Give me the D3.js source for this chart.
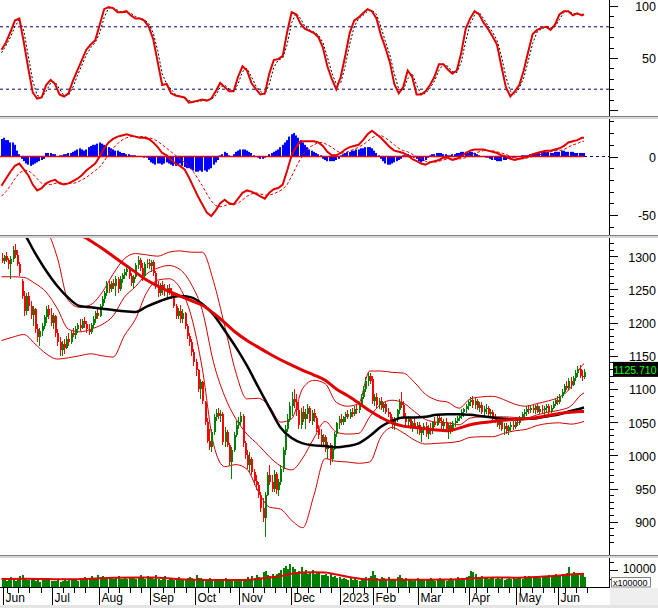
<!DOCTYPE html>
<html><head><meta charset="utf-8">
<script src="https://cdn.jsdelivr.net/npm/d3@7/dist/d3.min.js"></script>
<style>html,body{margin:0;padding:0;background:#fff;}svg{display:block;font-family:"Liberation Sans",Arial,sans-serif;}</style>
</head><body><svg id="chart" width="658" height="608"></svg>
<script>
// ---------- DATA ----------
const monthNames = ["Jun","Jul","Aug","Sep","Oct","Nov","Dec","2023","Feb","Mar","Apr","May","Jun"];
const monthStartDay = [1,23,44,67,87,107,130,152,167,187,210,231,250];

const opens = [
1298,1293,1300,1295,1288,1296,1310,1302,1288,1262,
1240,1218,1240,1225,1212,1220,1190,1178,1188,1195,
1208,1220,1212,1200,1210,1185,1170,1158,1168,1162,
1176,1170,1185,1182,1190,1196,1192,1203,1198,1190,
1186,1196,1205,1214,1210,1225,1236,1245,1258,1250,
1260,1255,1265,1250,1266,1272,1276,1280,1270,1260,
1268,1286,1294,1282,1270,1288,1290,1285,1292,1275,
1255,1245,1256,1250,1248,1252,1246,1240,1225,1210,
1218,1206,1215,1195,1180,1170,1155,1140,1128,1100,
1110,1080,1050,1022,1012,1035,1058,1064,1060,1062,
1020,1035,1015,990,1008,1030,1045,1050,1060,1018,
1000,985,995,975,962,955,940,920,905,940,
970,960,950,972,948,960,980,1008,1040,1055,
1075,1085,1080,1068,1045,1065,1055,1062,1072,1052,
1064,1056,1040,1030,1020,1028,1010,1015,995,1010,
1032,1048,1055,1050,1058,1062,1058,1066,1062,1070,
1068,1078,1088,1100,1112,1120,1115,1082,1088,1076,
1082,1072,1078,1066,1062,1052,1045,1054,1068,1080,
1076,1058,1050,1055,1044,1048,1042,1046,1034,1038,
1044,1032,1040,1036,1050,1046,1056,1052,1044,1050,
1040,1045,1038,1048,1052,1056,1060,1066,1070,1074,
1080,1084,1076,1082,1072,1076,1066,1070,1072,1062,
1066,1056,1052,1046,1050,1040,1044,1036,1042,1046,
1042,1050,1048,1058,1062,1066,1070,1068,1072,1068,
1074,1066,1070,1068,1072,1074,1066,1072,1078,1084,
1080,1090,1096,1105,1102,1112,1106,1116,1124,1130,
1120,1118];
const highs = [
1305,1302,1306,1298,1300,1315,1318,1310,1292,1265,
1248,1245,1246,1232,1225,1222,1198,1192,1200,1212,
1225,1226,1222,1215,1212,1190,1178,1172,1175,1180,
1185,1188,1192,1195,1200,1205,1206,1208,1202,1198,
1200,1210,1218,1222,1228,1240,1248,1262,1262,1262,
1266,1270,1268,1270,1275,1280,1285,1284,1275,1272,
1290,1300,1298,1290,1292,1296,1296,1294,1295,1278,
1262,1260,1262,1258,1256,1258,1252,1245,1228,1222,
1226,1220,1216,1198,1185,1175,1160,1145,1130,1115,
1112,1082,1056,1040,1040,1062,1070,1072,1068,1066,
1042,1038,1018,1012,1035,1052,1058,1066,1062,1022,
1008,1005,998,980,970,960,945,935,945,975,
985,970,978,975,965,985,1012,1045,1062,1080,
1095,1100,1092,1080,1072,1075,1070,1078,1075,1068,
1070,1060,1045,1040,1032,1030,1020,1018,1015,1035,
1050,1060,1062,1060,1066,1068,1070,1072,1075,1076,
1080,1092,1105,1118,1126,1124,1120,1092,1094,1086,
1088,1080,1082,1072,1066,1058,1058,1070,1085,1096,
1082,1064,1060,1058,1052,1056,1050,1050,1042,1048,
1050,1045,1048,1052,1058,1060,1062,1058,1055,1056,
1048,1050,1052,1056,1060,1064,1070,1072,1078,1084,
1088,1090,1086,1085,1080,1080,1075,1078,1074,1070,
1068,1062,1058,1054,1052,1048,1048,1046,1050,1052,
1054,1056,1060,1066,1070,1074,1076,1076,1078,1076,
1078,1074,1076,1074,1078,1078,1076,1082,1086,1090,
1092,1100,1108,1112,1116,1118,1120,1128,1134,1136,
1128,1130];
const lows = [
1290,1288,1292,1280,1265,1292,1298,1285,1270,1235,
1210,1212,1218,1205,1195,1185,1170,1165,1180,1190,
1200,1205,1195,1190,1178,1165,1150,1150,1152,1160,
1165,1168,1178,1175,1185,1188,1190,1192,1185,1182,
1183,1192,1200,1206,1208,1222,1230,1240,1245,1246,
1250,1240,1245,1248,1260,1266,1270,1266,1255,1250,
1265,1280,1278,1262,1268,1282,1280,1276,1270,1250,
1238,1240,1242,1240,1238,1242,1235,1222,1205,1205,
1200,1200,1190,1175,1165,1150,1135,1120,1095,1085,
1078,1045,1018,1008,1005,1030,1052,1055,1050,1015,
1012,1012,985,965,1005,1028,1040,1045,1012,995,
980,975,970,955,948,935,915,900,877,938,
955,945,945,942,938,955,975,1000,1035,1050,
1060,1072,1060,1040,1040,1050,1040,1055,1048,1045,
1050,1035,1025,1015,1012,1005,995,985,990,1008,
1028,1040,1045,1046,1050,1055,1055,1058,1060,1062,
1064,1075,1085,1095,1105,1108,1078,1075,1072,1070,
1068,1065,1062,1058,1048,1040,1038,1050,1062,1072,
1055,1045,1042,1040,1035,1040,1032,1030,1020,1030,
1028,1025,1030,1032,1042,1044,1048,1040,1040,1035,
1025,1032,1035,1042,1048,1052,1055,1058,1064,1068,
1074,1072,1070,1068,1066,1062,1060,1062,1058,1056,
1052,1048,1042,1040,1036,1030,1032,1030,1036,1038,
1040,1044,1046,1054,1056,1060,1062,1064,1064,1062,
1064,1062,1064,1060,1066,1062,1064,1070,1074,1076,
1078,1086,1092,1098,1098,1100,1104,1112,1118,1116,
1112,1115];
const closes = [
1293,1300,1295,1288,1296,1310,1302,1288,1275,1240,
1218,1240,1225,1212,1220,1190,1178,1188,1195,1208,
1220,1212,1200,1210,1185,1170,1158,1168,1162,1176,
1170,1185,1182,1190,1196,1192,1203,1198,1190,1186,
1196,1205,1214,1210,1225,1236,1245,1258,1250,1260,
1255,1265,1250,1266,1272,1276,1280,1270,1260,1268,
1286,1294,1282,1270,1288,1290,1285,1292,1275,1255,
1245,1256,1250,1248,1252,1246,1240,1225,1210,1218,
1206,1215,1195,1180,1170,1155,1140,1128,1100,1110,
1082,1050,1022,1012,1035,1058,1064,1060,1062,1020,
1035,1015,990,1008,1030,1045,1050,1060,1018,1000,
985,995,975,962,955,940,920,905,940,970,
960,950,972,948,960,980,1008,1040,1055,1075,
1085,1080,1068,1045,1065,1055,1062,1072,1052,1064,
1056,1040,1030,1020,1028,1010,1015,995,1010,1032,
1048,1055,1050,1058,1062,1058,1066,1062,1070,1068,
1078,1088,1100,1112,1120,1112,1082,1088,1076,1082,
1072,1078,1066,1062,1052,1045,1054,1068,1080,1076,
1058,1050,1055,1044,1048,1042,1046,1034,1038,1044,
1032,1040,1036,1050,1046,1056,1052,1044,1050,1040,
1045,1038,1048,1052,1056,1060,1066,1070,1074,1080,
1084,1076,1082,1072,1076,1066,1070,1072,1062,1066,
1056,1052,1046,1050,1040,1044,1036,1042,1046,1042,
1050,1048,1058,1062,1066,1070,1068,1072,1068,1074,
1066,1070,1068,1072,1074,1066,1072,1078,1084,1080,
1090,1096,1105,1102,1112,1106,1116,1124,1130,1120,
1118,1125.71];

// smooth overlay lines, sampled every 5 trading days (+ last day)
const maBlack = [1375,1355,1335,1305,1278,1255,1237,1225,1223,1221,1219,1217,1216,1224,1231,1237,1240,1238,1228,1212,1188,1163,1135,1103,1072,1042,1026,1018,1015,1014,1012,1014,1018,1029,1043,1052,1057,1057,1058,1061,1062,1062,1061,1059,1057,1055,1054,1055,1056,1059,1062,1067,1071,1072];
const maRed = [1400,1385,1372,1360,1350,1342,1335,1332,1323,1312,1300,1288,1276,1264,1255,1247,1240,1233,1226,1214,1200,1185,1173,1163,1153,1144,1136,1128,1121,1113,1100,1090,1079,1067,1057,1049,1044,1042,1040,1038,1037,1041,1046,1049,1051,1053,1054,1055,1057,1060,1063,1065,1066,1066];
const bbUpper = [1365,1360,1355,1350,1340,1298,1233,1223,1227,1245,1273,1296,1304,1302,1300,1306,1308,1306,1306,1262,1195,1125,1085,1086,1074,1050,1055,1101,1113,1108,1080,1074,1078,1127,1127,1125,1124,1110,1092,1083,1080,1071,1085,1088,1089,1084,1077,1074,1078,1082,1088,1102,1135,1138];
const bbMid = [1269,1269,1268,1259,1246,1221,1190,1186,1190,1197,1210,1238,1254,1273,1282,1286,1280,1258,1218,1140,1089,1055,1032,1016,998,984,978,996,1026,1051,1035,1032,1033,1058,1077,1083,1079,1066,1054,1050,1049,1046,1056,1058,1058,1058,1057,1056,1061,1065,1068,1074,1092,1094];
const bbLower = [1173,1178,1182,1168,1153,1145,1147,1150,1153,1150,1148,1180,1205,1245,1264,1266,1252,1210,1130,1017,983,986,979,946,922,919,902,891,940,995,991,990,988,990,1028,1042,1034,1023,1017,1018,1019,1021,1027,1028,1028,1033,1037,1039,1045,1048,1049,1047,1050,1051];

// oscillators, sampled every 2 trading days (+ last day)
const stochK = [58,65,75,86,88,65,40,17,11,12,24,29,25,15,13,16,28,38,48,58,63,67,82,97,99,98,94,94,95,91,88,88,86,80,68,46,24,25,16,14,13,12,7,8,9,10,9,11,18,26,22,18,18,32,42,38,26,20,15,16,35,48,49,52,75,94,92,83,78,76,74,70,60,42,30,20,32,52,74,86,89,93,97,95,88,72,60,46,25,16,22,38,32,15,15,18,24,32,44,44,39,35,38,55,78,88,95,92,84,78,71,63,42,22,13,18,24,38,56,73,77,79,80,77,82,92,95,95,91,93,91,92];
const stochD = [55,62,70,80,87,76,52,28,14,12,18,26,27,20,14,14,22,33,43,53,60,65,74,89,98,98,96,94,94,93,90,88,87,83,74,57,35,25,20,15,13,12,9,8,8,9,10,10,14,22,24,20,18,25,37,40,32,23,18,15,25,41,48,50,63,84,93,88,80,77,75,72,65,51,36,25,26,42,63,80,88,91,95,96,92,80,66,53,35,20,19,30,35,24,15,16,21,28,38,44,42,37,36,46,66,83,91,94,88,81,75,67,52,32,18,15,21,31,47,64,75,78,80,79,80,87,94,95,93,92,92,92];
const macdLine = [-25,-19,-13,-8,-6,-11,-16,-24,-29,-27,-23,-21,-20,-23,-24,-23,-21,-19,-16,-12,-9,-6,0,7,12,15,17,18,19,18,17,16,16,15,12,8,3,1,-3,-6,-8,-11,-18,-26,-34,-41,-48,-51,-46,-40,-37,-40,-41,-36,-31,-29,-30,-32,-34,-36,-31,-28,-27,-24,-12,1,8,13,13,13,13,12,9,4,1,1,3,6,8,9,10,14,19,22,19,16,12,8,5,4,3,1,-2,-4,-6,-7,-5,-4,-3,-1,-1,-3,-2,0,3,5,6,6,6,5,4,3,1,0,-2,-3,-2,-1,0,2,3,4,5,5,6,7,9,12,13,14,16,16];
const macdSignal = [-34,-30,-25,-19,-14,-12,-12,-15,-19,-23,-24,-24,-23,-22,-23,-23,-23,-22,-20,-18,-15,-12,-9,-4,2,7,11,14,16,17,17,17,17,16,15,13,10,7,4,1,-2,-5,-8,-13,-19,-25,-32,-38,-42,-43,-42,-41,-41,-40,-37,-34,-32,-31,-32,-33,-33,-32,-30,-28,-24,-17,-9,-2,4,8,10,12,12,10,8,5,3,3,5,6,8,10,13,16,18,18,16,13,10,7,5,4,2,0,-2,-4,-5,-5,-4,-3,-2,-2,-2,-2,-1,1,3,4,5,5,5,4,3,2,0,-1,-2,-2,-1,0,1,2,3,4,5,5,6,8,10,11,13,13];
// daily MACD histogram
const macdHist = [
15,16,14,14,12,12,10,5,2,
-2,-4,-6,-7,-8,-7,-6,-5,-4,-3,-2,
3,3,3,2,2,0,1,1,2,2,3,
3,4,5,6,7,6,5,6,8,9,10,10,11,12,
11,10,9,8,7,6,5,5,4,3,3,2,2,1,1,1,0,0,0,-1,-1,
-3,-5,-6,-7,-6,-6,-7,-6,-5,-6,-7,-8,-8,-7,-6,-8,-9,-10,-10,-11,-12,-13,-13,-12,-13,-12,-13,-11,-10,-7,-5,-3,
1,2,4,3,1,0,2,4,5,6,6,6,5,4,3,1,0,-1,-2,-2,-1,0,
2,3,4,5,6,8,10,12,14,17,19,20,
18,16,14,12,10,8,6,5,4,3,2,1,
-2,-3,-4,-4,-4,-4,-3,-2,
1,2,3,4,4,5,5,6,6,7,7,8,8,8,7,5,3,1,
-2,-4,-6,-7,-7,-6,-5,-4,-3,-2,
1,1,2,1,0,-1,
-2,-4,-5,-4,-3,-1,
1,2,2,3,3,3,2,2,1,1,2,2,3,3,4,4,4,3,
4,4,3,2,1,0,0,-1,
-1,-2,-3,-3,-4,-4,-4,-3,-3,-2,-2,-1,-1,0,0,1,1,1,
1,2,2,3,3,3,4,4,4,4,3,3,4,4,4,5,5,4,4,4,4,3,3,3,3,3];

// volume (x100000)
const volumes = [
4500,5200,3800,4100,6000,4800,3500,5500,6200,7000,5300,4200,3900,4600,5100,3600,4400,3200,4700,5000,3900,4300,3600,
3400,3800,4200,3000,3600,4100,3300,4500,3900,4800,4200,3600,5100,4400,5800,4900,5300,6200,4700,5500,6800,5900,
6500,5200,4800,6000,5400,4700,5900,6300,5000,4600,5500,4900,5800,6100,5200,4700,5600,7200,5400,4900,6300,5100,5700,
4500,7000,4800,4100,5500,6200,3900,4600,5200,4000,4800,5700,4300,5000,4600,5400,5900,5100,4500,7200,5400,
5200,4300,4000,4700,5200,3800,4500,3900,5000,3600,4300,5500,4000,4700,3500,4400,4100,4900,4300,3800,4600,
5900,5000,6400,5300,7000,6100,5500,8800,9600,7200,6400,7800,6600,7500,8400,9900,11200,12400,10300,13800,11800,
10500,8600,9400,12000,8200,9800,7900,8800,10200,7600,8300,9100,7200,6800,7700,6400,8000,5900,6500,5200,6100,
4500,5300,4800,3900,5600,4300,5000,4400,3800,5200,4600,5800,5300,6200,9600,
6800,5400,4700,6100,5200,4600,5700,4300,5000,4800,5900,6800,5100,4500,5300,4200,4900,3800,4600,5200,
4400,5000,3900,4700,4200,5300,4500,3800,4600,5100,4300,4900,3700,4500,5200,4100,4800,5600,4400,5300,4900,5800,6200,
9200,8700,7500,6100,5400,6600,5100,5800,4700,5300,6000,4900,5500,4600,5200,4400,5000,5700,4800,5300,4500,
5100,5800,4900,6200,5500,6700,5300,6000,5600,6400,5200,5900,6600,6000,7200,6300,6900,7600,6500,
7100,7800,6700,8200,11700,7400,8900,7200,8300,6800,7500,6100];
const volMaDays = [0,10,20,30,40,50,60,70,80,90,100,110,115,120,125,130,135,140,145,150,155,160,165,170,180,190,200,210,215,220,230,240,250,255,261];
const volMa = [4700,4800,4700,4500,4800,5400,5600,5500,4600,4200,4100,4200,4800,5600,6500,7800,8500,8700,8600,7300,6000,5000,4400,4300,4200,4300,4400,5000,5500,5600,5500,5900,6700,7400,7800];

const priceTicks = [900,950,1000,1050,1100,1150,1200,1250,1300];
const lastLabel = "1125.710";

// ---------- CHART ----------
const N = closes.length;
const AX = 609.5;
const x = d3.scaleLinear().domain([0, N - 1]).range([1.5, 584]);
const lineDays = d3.range(0, N - 1, 5).concat([N - 1]);
const oscDays = d3.range(0, N - 1, 2).concat([N - 1]);

const yS = d3.scaleLinear().domain([0, 100]).range([110, 6]);
const yM = d3.scaleLinear().domain([-50, 0]).range([215, 156.5]);
const yP = d3.scaleLinear().domain([900, 1300]).range([521.7, 256.2]);
const yV = d3.scaleLinear().domain([0, 10000]).range([587, 570]);

const svg = d3.select("#chart");
svg.append("rect").attr("width", 658).attr("height", 608).attr("fill", "#fff");
const defs = svg.append("defs");
function clip(id, y0, y1) {
  defs.append("clipPath").attr("id", id).append("rect")
    .attr("x", 0).attr("y", y0).attr("width", AX).attr("height", y1 - y0);
}
clip("cS", 0, 116); clip("cM", 119, 235); clip("cP", 238, 555); clip("cV", 558, 587);

// ----- stochastic -----
const gS = svg.append("g").attr("clip-path", "url(#cS)");
[80, 20].forEach(v => gS.append("line").attr("x1", 0).attr("x2", AX)
  .attr("y1", yS(v)).attr("y2", yS(v)).attr("stroke", "#000080").attr("stroke-dasharray", "3,3"));
const lineS = d3.line().x((d, i) => x(oscDays[i])).y(d => yS(d));
gS.append("path").datum(stochD).attr("d", lineS).attr("fill", "none")
  .attr("stroke", "#000").attr("stroke-width", 1).attr("stroke-dasharray", "2,2");
gS.append("path").datum(stochK).attr("d", lineS).attr("fill", "none")
  .attr("stroke", "#e00000").attr("stroke-width", 2);

// ----- MACD -----
const gM = svg.append("g").attr("clip-path", "url(#cM)");
gM.selectAll("rect.h").data(macdHist).join("rect").attr("class", "h")
  .attr("x", (d, i) => Math.round(x(i)) - 1).attr("width", 2)
  .attr("y", d => Math.min(yM(d), yM(0))).attr("height", d => Math.abs(yM(d) - yM(0)))
  .attr("fill", "#0000ff");
gM.append("line").attr("x1", 0).attr("x2", x(N - 1)).attr("y1", yM(0)).attr("y2", yM(0))
  .attr("stroke", "#e00000").attr("stroke-width", 1.5);
gM.append("line").attr("x1", x(N - 1)).attr("x2", AX).attr("y1", yM(0)).attr("y2", yM(0))
  .attr("stroke", "#0000a0").attr("stroke-dasharray", "3,3");
const lineM = d3.line().x((d, i) => x(oscDays[i])).y(d => yM(d));
gM.append("path").datum(macdSignal).attr("d", lineM).attr("fill", "none")
  .attr("stroke", "#e00000").attr("stroke-width", 1).attr("stroke-dasharray", "3,2");
gM.append("path").datum(macdLine).attr("d", lineM).attr("fill", "none")
  .attr("stroke", "#e00000").attr("stroke-width", 2);

// ----- price -----
const gP = svg.append("g").attr("clip-path", "url(#cP)");
const lineP = d3.line().x((d, i) => x(lineDays[i])).y(d => yP(d)).curve(d3.curveMonotoneX);
[bbUpper, bbMid, bbLower].forEach(s => gP.append("path").datum(s).attr("d", lineP)
  .attr("fill", "none").attr("stroke", "#d00000").attr("stroke-width", 1));
const candles = gP.append("g").attr("shape-rendering", "crispEdges");
closes.forEach((c, i) => {
  const o = opens[i], col = c >= o ? "#008000" : "#ff0000";
  const cx = Math.round(x(i));
  candles.append("line").attr("x1", cx + 0.5).attr("x2", cx + 0.5)
    .attr("y1", yP(highs[i])).attr("y2", yP(lows[i])).attr("stroke", col);
  const yt = yP(Math.max(o, c)), yb = yP(Math.min(o, c));
  candles.append("rect").attr("x", cx - 0.5).attr("width", 2)
    .attr("y", yt).attr("height", Math.max(1, yb - yt)).attr("fill", col);
});
gP.append("path").datum(maBlack).attr("d", lineP).attr("fill", "none")
  .attr("stroke", "#000").attr("stroke-width", 2.5);
gP.append("path").datum(maRed).attr("d", lineP).attr("fill", "none")
  .attr("stroke", "#e00000").attr("stroke-width", 3);

// ----- volume -----
const gV = svg.append("g").attr("clip-path", "url(#cV)");
gV.selectAll("rect.v").data(volumes).join("rect").attr("class", "v")
  .attr("x", (d, i) => Math.round(x(i)) - 0.5).attr("width", 2)
  .attr("y", d => yV(d)).attr("height", d => yV(0) - yV(d)).attr("fill", "#008000")
  .attr("shape-rendering", "crispEdges");
gV.append("path").datum(volMa)
  .attr("d", d3.line().x((d, i) => x(volMaDays[i])).y(d => yV(d)).curve(d3.curveMonotoneX))
  .attr("fill", "none").attr("stroke", "#e00000").attr("stroke-width", 2);

// ----- separators -----
function sep(y) {
  svg.append("rect").attr("x", 0).attr("y", y).attr("width", 658).attr("height", 3).attr("fill", "#d6d6d6");
  svg.append("line").attr("x1", 0).attr("x2", 658).attr("y1", y + 0.5).attr("y2", y + 0.5).attr("stroke", "#808080");
}
sep(116); sep(235); sep(555);

// ----- right axes -----
const axG = svg.append("g").attr("shape-rendering", "crispEdges");
function rightAxis(scale, y0, y1, minor, major, labels, fs, dyPx) {
  axG.append("line").attr("x1", AX).attr("x2", AX).attr("y1", y0).attr("y2", y1).attr("stroke", "#000");
  minor.forEach(v => axG.append("line").attr("x1", AX).attr("x2", AX + 4)
    .attr("y1", Math.round(scale(v)) + 0.5).attr("y2", Math.round(scale(v)) + 0.5).attr("stroke", "#000"));
  major.forEach(v => axG.append("line").attr("x1", AX).attr("x2", AX + 8)
    .attr("y1", Math.round(scale(v)) + 0.5).attr("y2", Math.round(scale(v)) + 0.5).attr("stroke", "#000"));
  labels.forEach(v => svg.append("text").attr("x", 656).attr("y", scale(v) + dyPx).attr("dy", "0.35em")
    .attr("text-anchor", "end").attr("font-size", fs).attr("fill", "#000").text(v));
}
rightAxis(yS, 0, 116, d3.range(0, 101, 10), [0, 50, 100], [100, 50], "12.5px", 1);
rightAxis(yM, 119, 235, d3.range(-60, 31, 10), [0, -50], [0, -50], "12.5px", 1);
rightAxis(yP, 238, 555, d3.range(870, 1321, 10), priceTicks, priceTicks, "12.5px", 1);
rightAxis(yV, 558, 588, [5000, 15000], [10000], [10000], "12px", -1);

// volume unit box
svg.append("rect").attr("x", 611.5).attr("y", 577.5).attr("width", 39).attr("height", 9.5)
  .attr("fill", "#fff").attr("stroke", "#808080");
svg.append("text").attr("x", 613).attr("y", 585.5).attr("font-size", "9px").attr("fill", "#000").text("x100000");

// last price box
const lastY = yP(closes[N - 1]);
svg.append("rect").attr("x", 613).attr("y", lastY - 10).attr("width", 46).attr("height", 15).attr("fill", "#000");
svg.append("text").attr("x", 613.5).attr("y", lastY + 2).attr("font-size", "10.5px")
  .attr("fill", "#00ff00").text(lastLabel);

// ----- bottom time axis -----
svg.append("rect").attr("x", AX + 0.5).attr("y", 588).attr("width", 658 - AX).attr("height", 20).attr("fill", "#efefef");
svg.append("rect").attr("x", 0).attr("y", 605).attr("width", 658).attr("height", 3).attr("fill", "#e4e4e4");
axG.append("line").attr("x1", 0).attr("x2", AX).attr("y1", 587.5).attr("y2", 587.5).attr("stroke", "#000");
const weekTicks = d3.range(3, N + 6, 5).filter(d => monthStartDay.every(m => Math.abs(m - d) > 1));
weekTicks.forEach(d => {
  const tx = Math.round(x(d) - 1.1) + 0.5;
  if (tx < AX) axG.append("line").attr("x1", tx).attr("x2", tx).attr("y1", 588).attr("y2", 593).attr("stroke", "#000");
});
monthStartDay.forEach((d, k) => {
  const tx = Math.round(x(d) - 1.1) + 0.5;
  axG.append("line").attr("x1", tx).attr("x2", tx).attr("y1", 588).attr("y2", 605).attr("stroke", "#000");
  svg.append("text").attr("x", tx + 2).attr("y", 602).attr("font-size", "12px").attr("fill", "#000").text(monthNames[k]);
});
</script></body></html>
